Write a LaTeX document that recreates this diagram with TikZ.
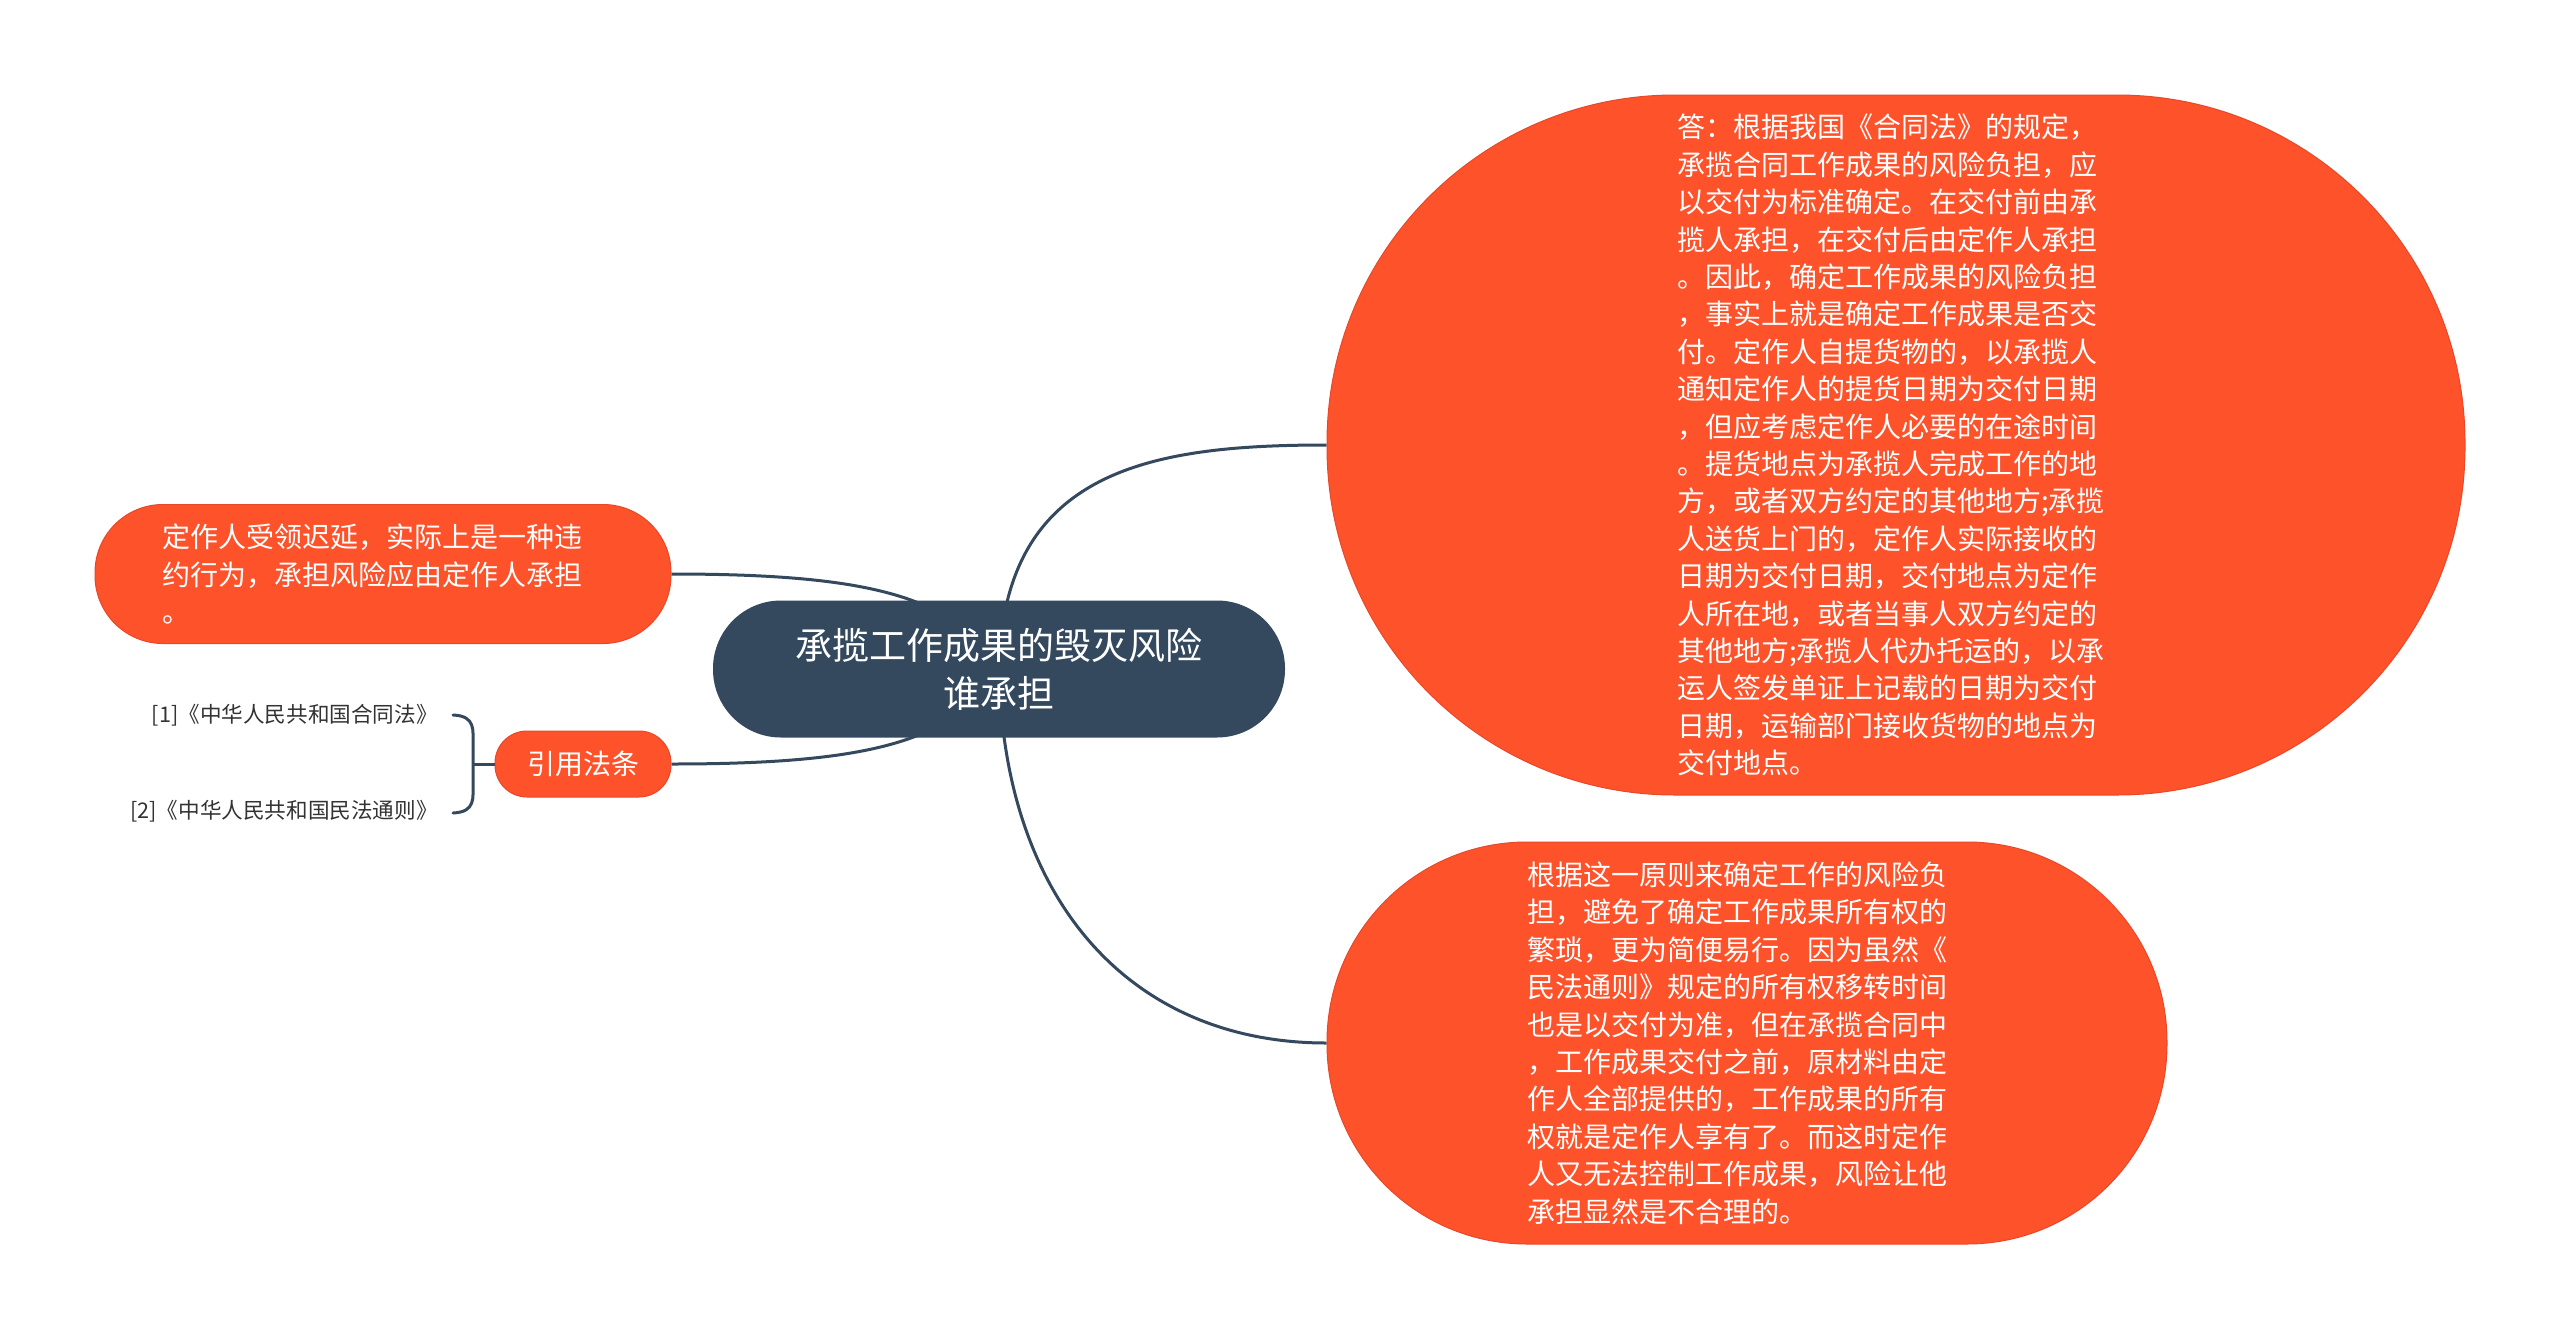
\documentclass[tikz,border=0pt]{standalone}
\usepackage{fontspec}
\setmainfont{Noto Sans CJK SC}
\usetikzlibrary{backgrounds}
\definecolor{orangefill}{HTML}{FE522B}
\definecolor{orangeedge}{HTML}{E8482A}
\definecolor{slate}{HTML}{34495E}
\definecolor{citegray}{HTML}{333333}
\begin{document}
\begin{tikzpicture}[x=0.5pt,y=-0.5pt,
  leaf/.style={draw=orangeedge, line width=0.5pt, fill=orangefill, inner sep=0pt},
  leaftext/.style={text=white, align=left, inner sep=0pt,
    font=\fontsize{14pt}{18.7pt}\selectfont},
  rootbox/.style={fill=slate, text=white, align=center, inner sep=0pt,
    font=\fontsize{18.5pt}{24pt}\selectfont},
  link/.style={draw=slate, line width=1.5pt},
  citetext/.style={text=citegray, anchor=east, inner sep=0pt, font=\fontsize{10.8pt}{14pt}\selectfont}]
\useasboundingbox (0,0) rectangle (2560,1339);

% central node
\node[rootbox, minimum width=286pt, minimum height=68.5pt, rounded corners=34pt] (c) at (999,669)
  {承揽工作成果的毁灭风险\\谁承担};

% right top
\node[leaf, minimum width=569pt, minimum height=350pt, rounded corners=174pt] (r1) at (1896,445) {};
\node[leaftext] (r1t) at (1891,445)
  {答：根据我国《合同法》的规定，\\
   承揽合同工作成果的风险负担，应\\
   以交付为标准确定。在交付前由承\\
   揽人承担，在交付后由定作人承担\\
   。因此，确定工作成果的风险负担\\
   ，事实上就是确定工作成果是否交\\
   付。定作人自提货物的，以承揽人\\
   通知定作人的提货日期为交付日期\\
   ，但应考虑定作人必要的在途时间\\
   。提货地点为承揽人完成工作的地\\
   方，或者双方约定的其他地方;承揽\\
   人送货上门的，定作人实际接收的\\
   日期为交付日期，交付地点为定作\\
   人所在地，或者当事人双方约定的\\
   其他地方;承揽人代办托运的，以承\\
   运人签发单证上记载的日期为交付\\
   日期，运输部门接收货物的地点为\\
   交付地点。};

% right bottom
\node[leaf, minimum width=420pt, minimum height=201pt, rounded corners=100pt] (r2) at (1747,1043) {};
\node[leaftext] (r2t) at (1737,1043)
  {根据这一原则来确定工作的风险负\\
   担，避免了确定工作成果所有权的\\
   繁琐，更为简便易行。因为虽然《\\
   民法通则》规定的所有权移转时间\\
   也是以交付为准，但在承揽合同中\\
   ，工作成果交付之前，原材料由定\\
   作人全部提供的，工作成果的所有\\
   权就是定作人享有了。而这时定作\\
   人又无法控制工作成果，风险让他\\
   承担显然是不合理的。};

% left top
\node[leaf, minimum width=288pt, minimum height=69.5pt, rounded corners=34pt] (l1) at (383,574) {};
\node[leaftext] (l1t) at (372,574)
  {定作人受领迟延，实际上是一种违\\
   约行为，承担风险应由定作人承担\\
   。};

% left bottom
\node[leaf, leaftext, fill=orangefill, draw=orangeedge, align=center, minimum width=88pt, minimum height=33pt, rounded corners=16pt] (l2) at (583,764)
  {引用法条};

% citations
\node[citetext] (cite1) at (438,715) {[1]《中华人民共和国合同法》};
\node[citetext] (cite2) at (438,811) {[2]《中华人民共和国民法通则》};

% bracket
\coordinate (b1) at (453,715);
\coordinate (b2) at (453,813);
\coordinate (bm) at (473,764);
\draw[link, line cap=round] (b1) .. controls (476,716) and (473,730) .. (473,746) -- (473,782)
   .. controls (473,798) and (476,812) .. (b2);
\draw[link] (bm) -- (l2.west);

% connectors
\begin{scope}[on background layer]
\fill[white] (0,0) rectangle (2560,1339);
\draw[link] (c.center) .. controls (1003,470) and (1150,445) .. (r1.west);
\draw[link] (c.center) .. controls (1003,900) and (1130,1043) .. (r2.west);
\draw[link] (l1.east) .. controls (875,574) and (955,598) .. (c.center);
\draw[link] (l2.east) .. controls (875,764) and (955,740) .. (c.center);
\end{scope}
\end{tikzpicture}
\end{document}
